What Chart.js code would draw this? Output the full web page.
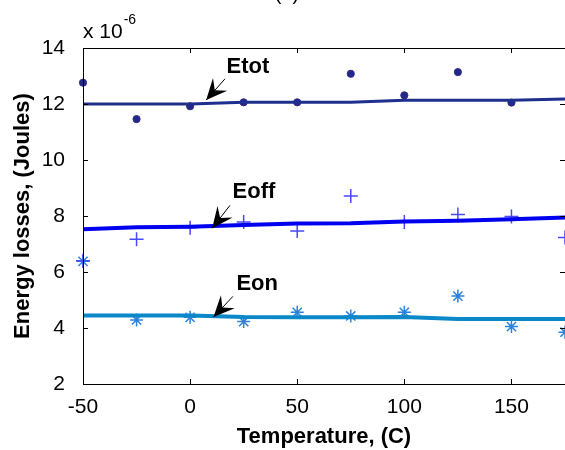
<!DOCTYPE html>
<html lang="en">
<head>
<meta charset="UTF-8">
<script src="https://cdn.jsdelivr.net/npm/chart.js"></script>
<title>Energy losses vs temperature</title>
<style>
  body { margin: 0; background: #fff; }
</style>
</head>
<body>
<canvas id="lossChart" width="565" height="450"></canvas>
<script>
// temperatures (C) and energy losses (x 1e-6 J)
var temperatures = [-50, -25, 0, 25, 50, 75, 100, 125, 150, 175];
var etotFit  = [12.00, 12.00, 12.00, 12.06, 12.06, 12.06, 12.13, 12.13, 12.13, 12.18];
var etotMeas = [12.76, 11.46, 11.92, 12.06, 12.06, 13.08, 12.31, 13.14, 12.05, null];
var eoffFit  = [7.53, 7.60, 7.62, 7.68, 7.73, 7.74, 7.80, 7.83, 7.88, 7.95];
var eoffMeas = [6.40, 7.17, 7.58, 7.79, 7.46, 8.71, 7.79, 8.05, 7.98, 7.23];
var eonFit   = [4.45, 4.45, 4.45, 4.39, 4.38, 4.38, 4.39, 4.32, 4.32, 4.32];
var eonMeas  = [6.38, 4.29, 4.38, 4.23, 4.56, 4.43, 4.56, 5.14, 4.05, 3.85];

var xTicks = [-50, 0, 50, 100, 150];
var yTicks = [2, 4, 6, 8, 10, 12, 14];

// text + arrow annotations (data units)
var notes = [
  { text: 'Etot', tx: 17.0, ty: 13.11, tipX: 7.5, tipY: 12.14, tailX: 16.3, tailY: 12.9 },
  { text: 'Eoff', tx: 19.8, ty: 8.64, tipX: 10.3, tipY: 7.56, tailX: 18.6, tailY: 8.38 },
  { text: 'Eon',  tx: 21.6, ty: 5.36, tipX: 10.9, tipY: 4.39, tailX: 20.0, tailY: 5.13 }
];

function toPoints(ys) {
  var pts = [];
  for (var i = 0; i < temperatures.length; i++) {
    if (ys[i] !== null) pts.push({ x: temperatures[i], y: ys[i] });
  }
  return pts;
}

Chart.defaults.font.family = "'Liberation Sans', Arial, sans-serif";
Chart.defaults.color = '#000';

function drawArrow(ctx, x0, y0, x1, y1) {
  // x0,y0 tail ; x1,y1 tip
  var dx = x1 - x0, dy = y1 - y0;
  var len = Math.sqrt(dx * dx + dy * dy);
  var ux = dx / len, uy = dy / len;
  var nx = -uy, ny = ux;
  var L = 21, W = 9.5;
  ctx.strokeStyle = '#000';
  ctx.lineWidth = 1;
  ctx.beginPath();
  ctx.moveTo(x0, y0);
  ctx.lineTo(x1, y1);
  ctx.stroke();
  ctx.fillStyle = '#000';
  ctx.beginPath();
  ctx.moveTo(x1, y1);
  ctx.lineTo(x1 - ux * L + nx * W, y1 - uy * L + ny * W);
  ctx.lineTo(x1 - ux * L * 0.62, y1 - uy * L * 0.62);
  ctx.lineTo(x1 - ux * L - nx * W, y1 - uy * L - ny * W);
  ctx.closePath();
  ctx.fill();
}

var framePlugin = {
  id: 'frame',
  afterDatasetsDraw: function (chart) {
    var ctx = chart.ctx;
    var a = chart.chartArea;
    var xs = chart.scales.x, ys = chart.scales.y;
    ctx.save();
    ctx.strokeStyle = '#000';
    ctx.lineWidth = 1;
    ctx.beginPath();
    ctx.rect(Math.round(a.left) + 0.5, Math.round(a.top) + 0.5, Math.round(a.right - a.left), Math.round(a.bottom - a.top));
    ctx.stroke();
    // inner ticks
    var t = 5;
    ctx.beginPath();
    xTicks.forEach(function (v) {
      var px = Math.round(xs.getPixelForValue(v)) + 0.5;
      ctx.moveTo(px, a.bottom); ctx.lineTo(px, a.bottom - t);
      ctx.moveTo(px, a.top); ctx.lineTo(px, a.top + t);
    });
    yTicks.forEach(function (v) {
      var py = Math.round(ys.getPixelForValue(v)) + 0.5;
      ctx.moveTo(a.left, py); ctx.lineTo(a.left + t, py);
      ctx.moveTo(a.right, py); ctx.lineTo(a.right - t, py);
    });
    ctx.stroke();

    // annotations
    ctx.font = "bold 22px 'Liberation Sans', Arial, sans-serif";
    ctx.textAlign = 'left';
    ctx.textBaseline = 'alphabetic';
    notes.forEach(function (n) {
      ctx.fillStyle = '#000';
      ctx.fillText(n.text, xs.getPixelForValue(n.tx), ys.getPixelForValue(n.ty));
      drawArrow(ctx, xs.getPixelForValue(n.tailX), ys.getPixelForValue(n.tailY),
                xs.getPixelForValue(n.tipX), ys.getPixelForValue(n.tipY));
    });

    // exponent label
    ctx.fillStyle = '#000';
    ctx.font = "21px 'Liberation Sans', Arial, sans-serif";
    ctx.fillText('x 10', a.left, a.top - 10);
    var w = ctx.measureText('x 10').width;
    ctx.font = "14px 'Liberation Sans', Arial, sans-serif";
    ctx.fillText('-6', a.left + w + 1, a.top - 24);

    // clipped figure caption
    ctx.font = "20px 'Liberation Sans', Arial, sans-serif";
    ctx.textAlign = 'center';
    ctx.fillText('(a)', 287, 0);
    ctx.restore();
  }
};

new Chart(document.getElementById('lossChart'), {
  type: 'scatter',
  data: {
    datasets: [
      { label: 'Etot fit', data: toPoints(etotFit), showLine: true, borderColor: '#1f2f8e', borderWidth: 3, pointRadius: 0, tension: 0 },
      { label: 'Eoff fit', data: toPoints(eoffFit), showLine: true, borderColor: '#0000f0', borderWidth: 4, pointRadius: 0, tension: 0 },
      { label: 'Eon fit', data: toPoints(eonFit), showLine: true, borderColor: '#0a88c8', borderWidth: 4, pointRadius: 0, tension: 0 },
      { label: 'Etot', data: toPoints(etotMeas), pointStyle: 'circle', pointRadius: 3.6, backgroundColor: '#1f2a8c', borderColor: '#3b2a80', borderWidth: 1, clip: false },
      { label: 'Eoff', data: toPoints(eoffMeas), pointStyle: 'cross', pointRadius: 7, borderColor: '#4848ff', borderWidth: 1.5, clip: false },
      { label: 'Eon', data: toPoints(eonMeas), pointStyle: 'star', pointRadius: 6.5, borderColor: '#2a82dc', borderWidth: 1.5, clip: false }
    ]
  },
  options: {
    responsive: false,
    animation: false,
    layout: { autoPadding: false, padding: { top: 48, right: 0, left: 0, bottom: 0 } },
    plugins: { legend: { display: false }, tooltip: { enabled: false } },
    scales: {
      x: {
        type: 'linear',
        min: -50,
        max: 175,
        afterBuildTicks: function (scale) { scale.ticks = xTicks.map(function (v) { return { value: v }; }); },
        afterFit: function (scale) {
          scale.height = 66;
          scale.paddingLeft = 0;
          scale.paddingRight = 0;
        },
        grid: { display: false },
        border: { display: false },
        ticks: { font: { size: 21 }, padding: 3, maxRotation: 0 },
        title: { display: true, text: 'Temperature, (C)', font: { size: 22, weight: 'bold' }, padding: { top: 0, bottom: 0 } }
      },
      y: {
        min: 2,
        max: 14,
        afterBuildTicks: function (scale) { scale.ticks = yTicks.map(function (v) { return { value: v }; }); },
        afterFit: function (scale) {
          scale.width = 83;
          scale.paddingTop = 0;
          scale.paddingBottom = 0;
        },
        grid: { display: false },
        border: { display: false },
        ticks: { font: { size: 21 }, padding: 10 },
        title: { display: true, text: 'Energy losses, (Joules)', font: { size: 22, weight: 'bold' }, padding: { top: 10, bottom: 0 } }
      }
    }
  },
  plugins: [framePlugin]
});
</script>
</body>
</html>
